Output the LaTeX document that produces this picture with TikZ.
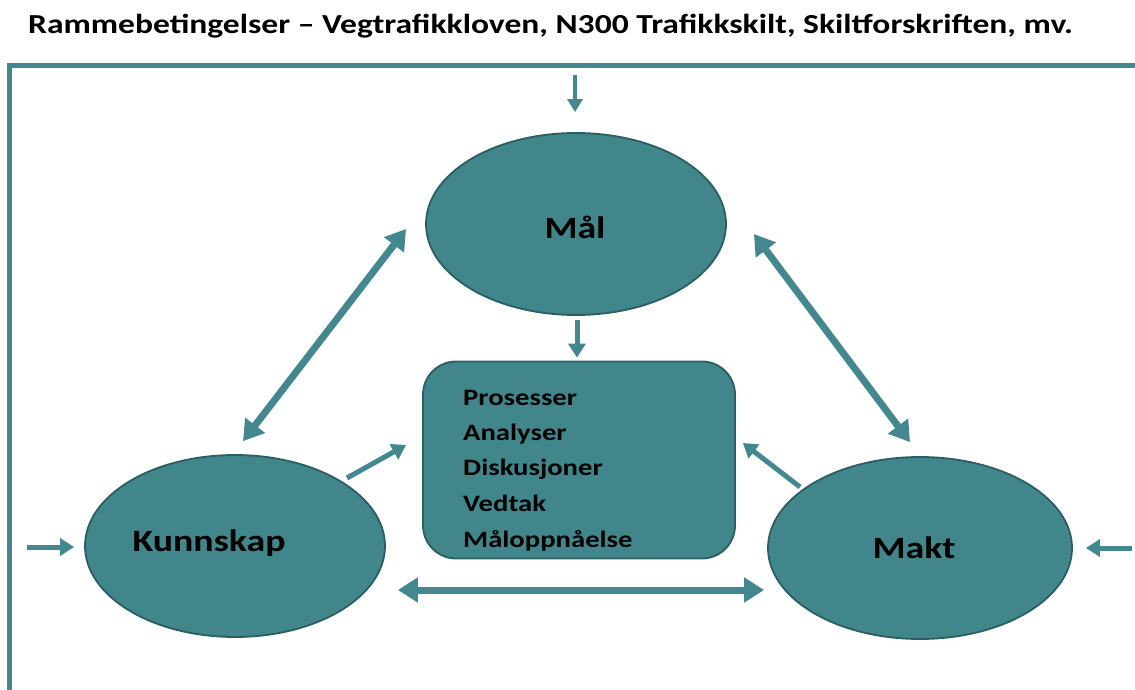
\documentclass[tikz,border=0pt]{standalone}
\usepackage{fontspec}
\setmainfont{Carlito}[FakeStretch=1.22]
\usetikzlibrary{arrows.meta,calc,shapes.geometric}
\definecolor{tealfill}{RGB}{64,134,138}
\definecolor{tealedge}{RGB}{42,94,98}
\definecolor{tealline}{RGB}{66,136,142}
\tikzset{
  oval/.style={ellipse,draw=tealedge,line width=1.8pt,fill=tealfill,minimum width=300pt,minimum height=182pt,inner sep=0pt},
  procbox/.style={rectangle,rounded corners=33pt,draw=tealedge,line width=1.8pt,fill=tealfill,minimum width=312pt,minimum height=197pt,inner sep=0pt},
  biglabel/.style={anchor=base,font=\fontsize{31}{36}\selectfont\bfseries,inner sep=0pt},
  listtext/.style={anchor=base west,font=\fontsize{23.5}{28}\selectfont\bfseries,inner sep=0pt},
  bigarrow/.style={draw=tealline,line width=7pt,{Triangle[width=24pt,length=20pt]}-{Triangle[width=24pt,length=20pt]}},
  smallarrow/.style={draw=tealline,line width=5pt,-{Triangle[width=17pt,length=14pt]}},
  frameline/.style={draw=tealline,line width=5pt}
}
\begin{document}
\begin{tikzpicture}[x=1pt,y=-1pt]
\useasboundingbox (0,0) rectangle (1135,690);
% title
\node[anchor=base west,inner sep=0pt,font=\fontsize{27.5}{32}\selectfont\bfseries] (title) at (28,34) {Rammebetingelser – Vegtrafikkloven, N300 Trafikkskilt, Skiltforskriften, mv.};
% frame
\coordinate (fr) at (1140,66);
\coordinate (fc) at (9,66);
\coordinate (fb) at (9,695);
\draw[frameline] (fr) -- (fc) -- (fb);
% shapes
\node[oval] (mal) at (576,224) {};
\node[oval] (kunn) at (235,546) {};
\node[oval,minimum width=304pt] (makt) at (920,548) {};
\node[procbox] (box) at (579,460) {};
% labels
\node[biglabel] (malt) at (575,238) {Mål};
\node[biglabel] (kunnt) at (209,551) {Kunnskap};
\node[biglabel] (maktt) at (914,558) {Makt};
\node[listtext] (l1) at (463,405) {Prosesser};
\node[listtext] (l2) at (463,440) {Analyser};
\node[listtext] (l3) at (463,475) {Diskusjoner};
\node[listtext] (l4) at (463,511) {Vedtak};
\node[listtext] (l5) at (463,547) {Måloppnåelse};
% inputs from frame
\coordinate (topin) at (575,75);
\coordinate (leftin) at (27,547);
\coordinate (rightin) at (1132,548);
\draw[smallarrow,line width=4.5pt,-{Triangle[width=15pt,length=13pt]}] (topin) -- ($(mal.north)+(-1,-20)$);
\draw[smallarrow] (leftin) -- ($(kunn.west)+(-10,1)$);
\draw[smallarrow] (rightin) -- ($(makt.east)+(13,0)$);
% into process box
\draw[smallarrow] ($(mal.south)+(1,4)$) -- ($(box.north)+(-2,-3)$);
\draw[smallarrow] ($(kunn.center)+(112,-68)$) -- ($(box.west)+(-16,-15)$);
\draw[smallarrow] ($(makt.center)+(-120,-61)$) -- ($(box.east)+(7,-17)$);
% double arrows
\draw[bigarrow] ($(kunn.north)+(8,-13)$) -- ($(mal.west)+(-19,5)$);
\draw[bigarrow] ($(mal.east)+(27,10)$) -- ($(makt.north)+(-10,-14)$);
\draw[bigarrow] ($(kunn.east)+(12,44)$) -- ($(makt.west)+(-3,42)$);
\end{tikzpicture}
\end{document}
